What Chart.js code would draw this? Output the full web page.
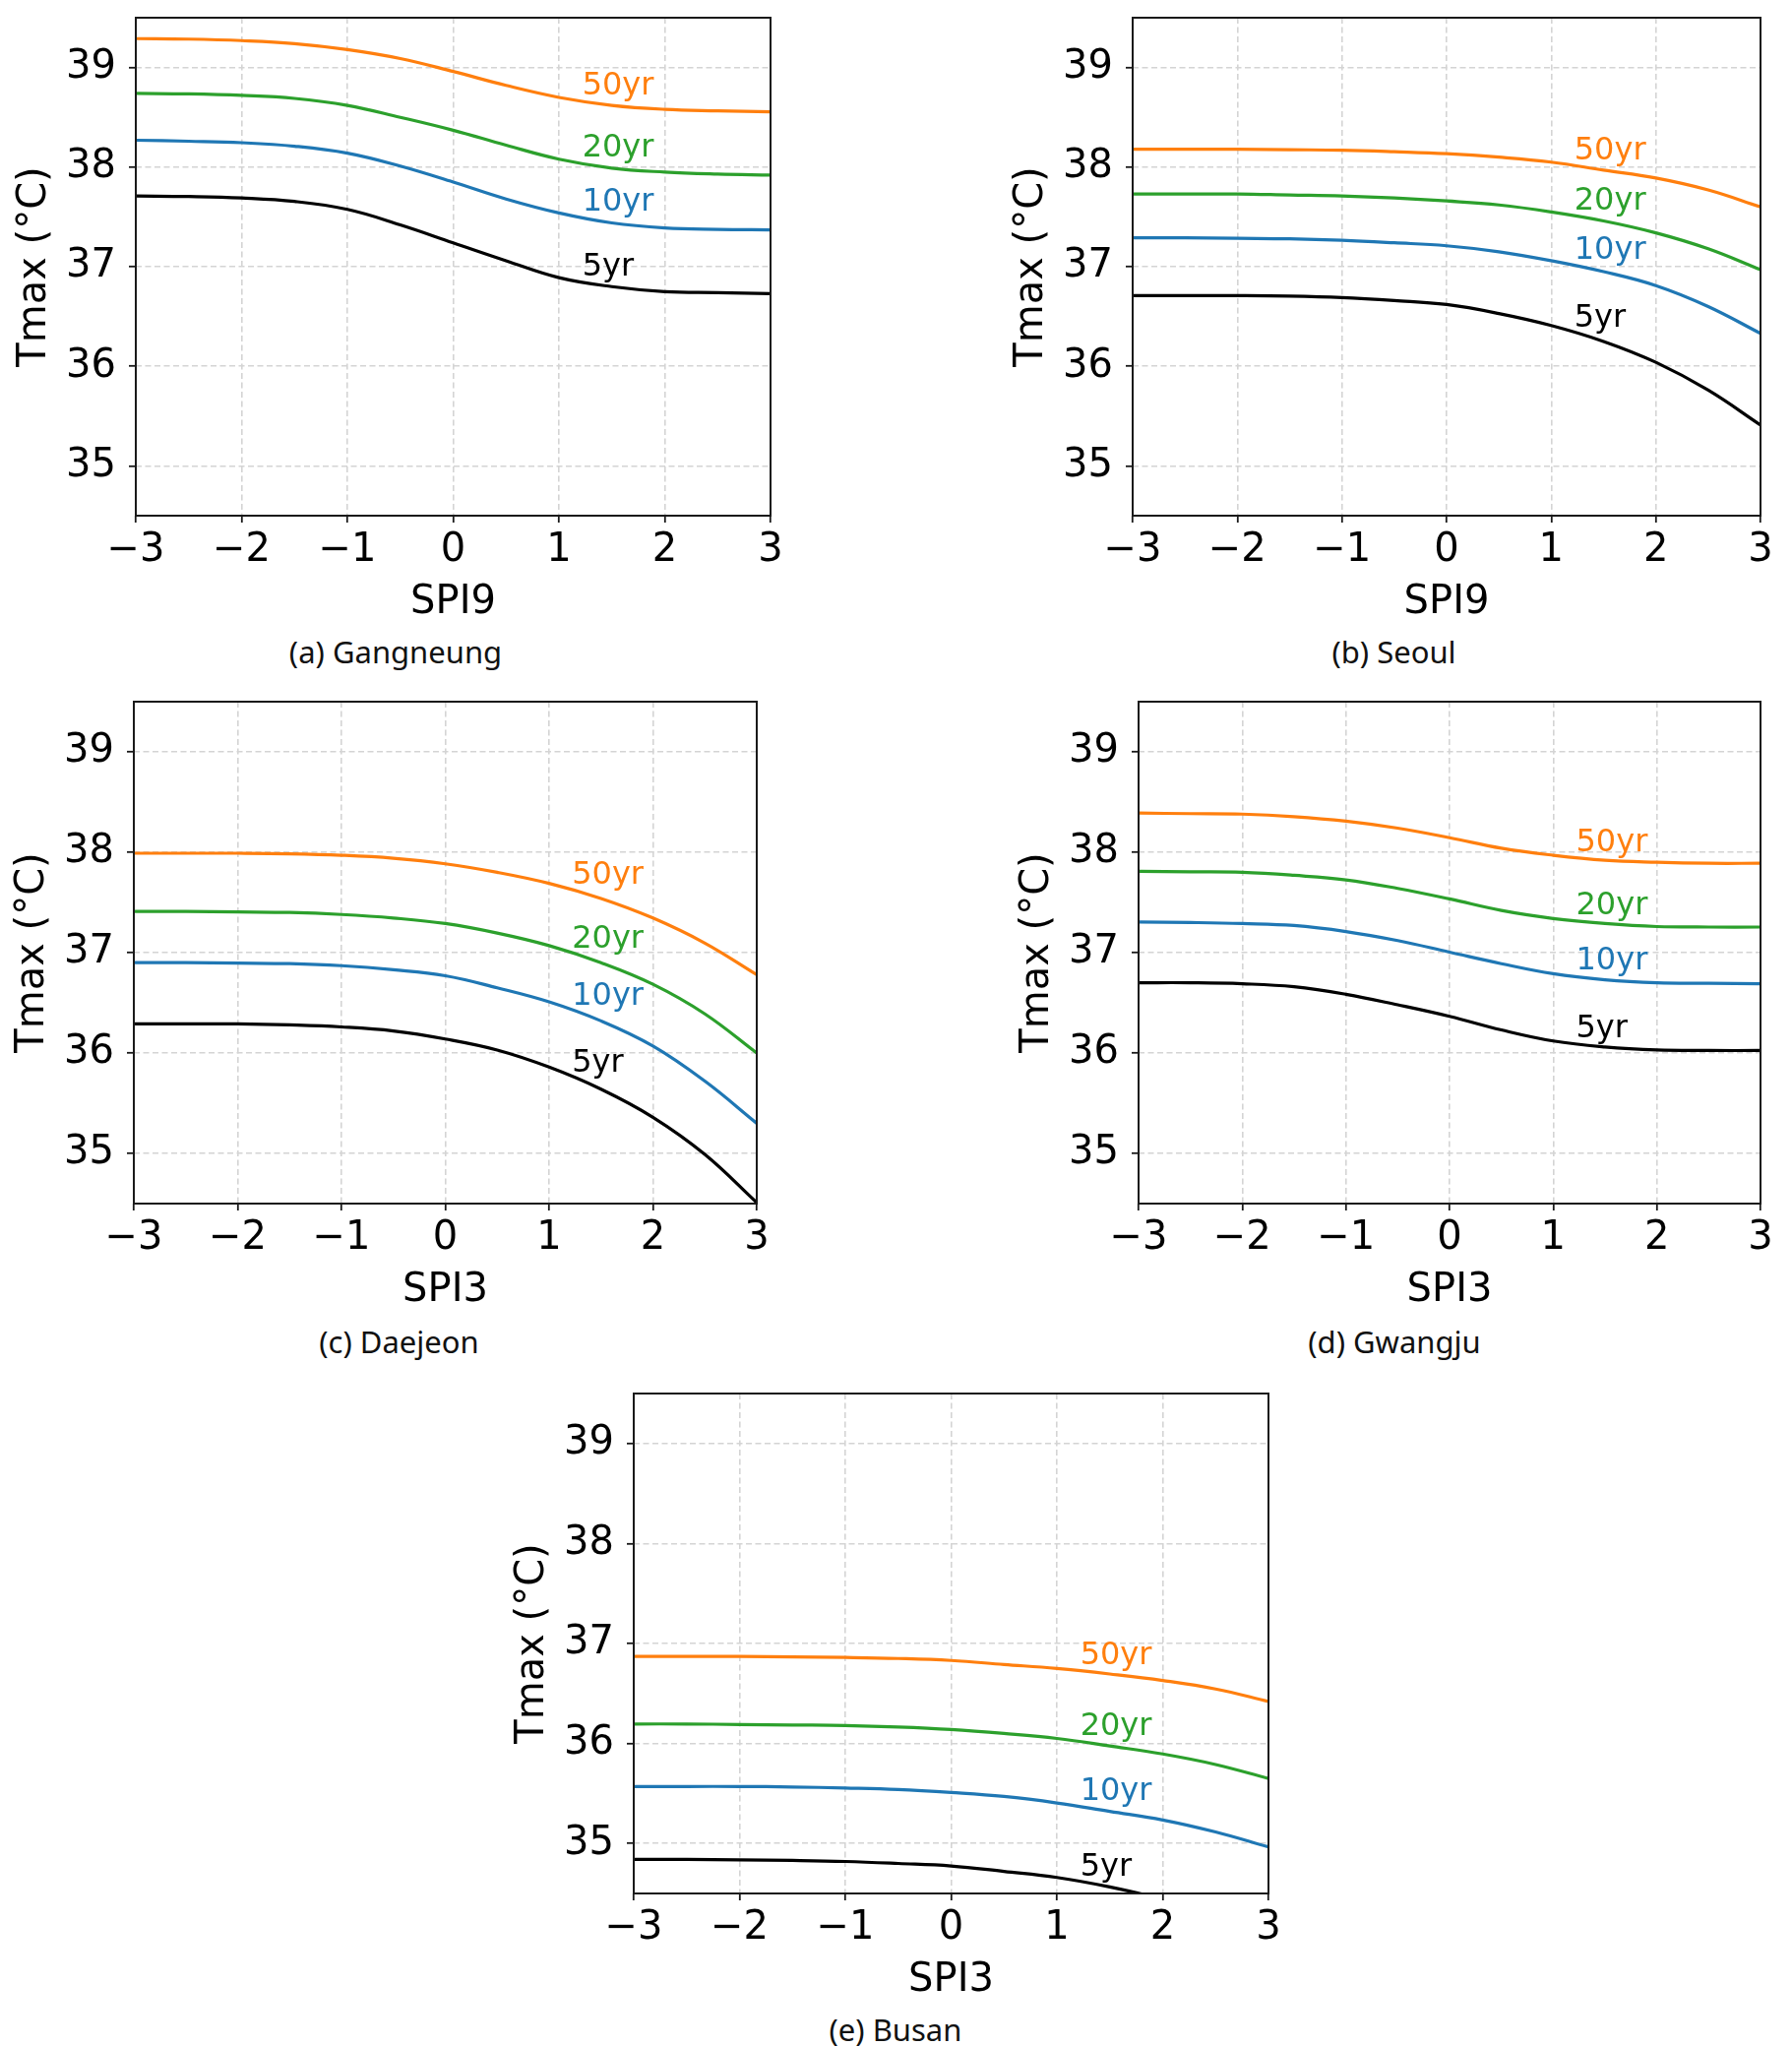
<!DOCTYPE html>
<html>
<head>
<meta charset="utf-8">
<script src="https://cdn.jsdelivr.net/npm/chart.js@4.4.0/dist/chart.umd.min.js"></script>
<style>
  html, body { margin: 0; padding: 0; background: #fff; }
  #fig { position: relative; width: 1821px; height: 2079px; overflow: hidden; background: #fff; }
  #fig canvas { position: absolute; }
  .caption {
    position: absolute;
    font-family: 'Noto Sans', sans-serif;
    font-size: 31px;
    line-height: 31px;
    color: #111;
    white-space: nowrap;
    transform: translateX(-50%);
  }
</style>
</head>
<body>
<div id="fig"></div>
<script>
// ===== 数据 =====
const spi = [-3, -2.5, -2, -1.5, -1, -0.5, 0, 0.5, 1, 1.5, 2, 2.5, 3];
const periods = ['50yr', '20yr', '10yr', '5yr'];
const periodColors = ['#ff7f0e', '#2ca02c', '#1f77b4', '#000000'];
const xTicks = [-3, -2, -1, 0, 1, 2, 3];
const yTicks = [35, 36, 37, 38, 39];

// (a) Gangneung - SPI9
const gangneung50 = [39.29, 39.285, 39.27, 39.24, 39.18, 39.09, 38.96, 38.82, 38.70, 38.62, 38.58, 38.565, 38.555];
const gangneung20 = [38.74, 38.735, 38.72, 38.69, 38.62, 38.50, 38.37, 38.22, 38.08, 37.99, 37.95, 37.93, 37.92];
const gangneung10 = [38.27, 38.26, 38.245, 38.21, 38.14, 38.01, 37.85, 37.68, 37.54, 37.44, 37.39, 37.375, 37.37];
const gangneung5  = [37.71, 37.705, 37.69, 37.655, 37.575, 37.42, 37.24, 37.06, 36.89, 36.80, 36.75, 36.74, 36.73];

// (b) Seoul - SPI9
const seoul50 = [38.18, 38.18, 38.18, 38.175, 38.17, 38.155, 38.135, 38.10, 38.05, 37.97, 37.89, 37.77, 37.60];
const seoul20 = [37.73, 37.73, 37.73, 37.72, 37.71, 37.69, 37.66, 37.62, 37.55, 37.46, 37.34, 37.18, 36.97];
const seoul10 = [37.29, 37.29, 37.285, 37.28, 37.265, 37.24, 37.21, 37.15, 37.06, 36.95, 36.81, 36.60, 36.33];
const seoul5  = [36.71, 36.71, 36.71, 36.705, 36.69, 36.66, 36.62, 36.53, 36.41, 36.25, 36.04, 35.76, 35.41];

// (c) Daejeon - SPI3
const daejeon50 = [37.99, 37.99, 37.99, 37.985, 37.97, 37.94, 37.885, 37.80, 37.69, 37.54, 37.345, 37.095, 36.78];
const daejeon20 = [37.41, 37.41, 37.405, 37.40, 37.38, 37.345, 37.29, 37.195, 37.07, 36.90, 36.685, 36.39, 36.00];
const daejeon10 = [36.90, 36.90, 36.895, 36.89, 36.87, 36.83, 36.77, 36.65, 36.51, 36.32, 36.07, 35.72, 35.30];
const daejeon5  = [36.29, 36.29, 36.29, 36.28, 36.26, 36.22, 36.14, 36.03, 35.86, 35.64, 35.36, 34.99, 34.51];

// (d) Gwangju - SPI3
const gwangju50 = [38.39, 38.385, 38.38, 38.355, 38.31, 38.24, 38.145, 38.04, 37.97, 37.92, 37.90, 37.89, 37.89];
const gwangju20 = [37.81, 37.805, 37.80, 37.77, 37.725, 37.64, 37.535, 37.42, 37.34, 37.29, 37.26, 37.255, 37.255];
const gwangju10 = [37.305, 37.30, 37.29, 37.27, 37.21, 37.12, 37.005, 36.89, 36.79, 36.73, 36.70, 36.695, 36.69];
const gwangju5  = [36.70, 36.70, 36.69, 36.66, 36.585, 36.48, 36.365, 36.23, 36.12, 36.06, 36.03, 36.025, 36.025];

// (e) Busan - SPI3
const busan50 = [36.87, 36.87, 36.87, 36.865, 36.86, 36.85, 36.83, 36.79, 36.75, 36.695, 36.63, 36.545, 36.42];
const busan20 = [36.195, 36.195, 36.19, 36.185, 36.18, 36.165, 36.14, 36.10, 36.05, 35.975, 35.895, 35.79, 35.65];
const busan10 = [35.57, 35.57, 35.57, 35.565, 35.555, 35.54, 35.51, 35.47, 35.405, 35.32, 35.235, 35.115, 34.965];
const busan5  = [34.84, 34.84, 34.835, 34.83, 34.82, 34.80, 34.775, 34.72, 34.66, 34.565, 34.44, 34.27, 34.06];

// ===== 版面（绘图区位置 / 图注位置） =====
const panels = [
    { caption: '(a) Gangneung', xTitle: 'SPI9', series: [gangneung50, gangneung20, gangneung10, gangneung5],
      area: { left: 138, top: 18, right: 783, bottom: 523.5 }, cap: { x: 402, base: 675 } },
    { caption: '(b) Seoul', xTitle: 'SPI9', series: [seoul50, seoul20, seoul10, seoul5],
      area: { left: 1151, top: 18, right: 1789, bottom: 523.5 }, cap: { x: 1416.5, base: 675 } },
    { caption: '(c) Daejeon', xTitle: 'SPI3', series: [daejeon50, daejeon20, daejeon10, daejeon5],
      area: { left: 136, top: 712.5, right: 769, bottom: 1222 }, cap: { x: 405.5, base: 1376 } },
    { caption: '(d) Gwangju', xTitle: 'SPI3', series: [gwangju50, gwangju20, gwangju10, gwangju5],
      area: { left: 1157, top: 712.5, right: 1789, bottom: 1222 }, cap: { x: 1417, base: 1376 } },
    { caption: '(e) Busan', xTitle: 'SPI3', series: [busan50, busan20, busan10, busan5],
      area: { left: 644, top: 1415.5, right: 1289, bottom: 1923 }, cap: { x: 910, base: 2075 } }
];

const PAD_L = 130, PAD_T = 50, PAD_R = 30, PAD_B = 116;
const AXIS_FONT = { family: 'DejaVu Sans', size: 40 };

function valueAt(points, xv) {
    for (let i = 0; i < points.length - 1; i++) {
        const a = points[i], b = points[i + 1];
        if (xv >= a.x && xv <= b.x) {
            return a.y + (b.y - a.y) * (xv - a.x) / (b.x - a.x);
        }
    }
    return points[points.length - 1].y;
}

// 绘图区外框（matplotlib 四边 spines）
const framePlugin = {
    id: 'frame',
    afterDatasetsDraw(chart) {
        const { ctx, chartArea: a } = chart;
        ctx.save();
        ctx.strokeStyle = '#1a1a1a';
        ctx.lineWidth = 2;
        ctx.strokeRect(a.left, a.top, a.right - a.left, a.bottom - a.top);
        ctx.restore();
    }
};

// 曲线旁的重现期标注
const curveLabelPlugin = {
    id: 'curveLabels',
    afterDatasetsDraw(chart) {
        const { ctx, scales: { x, y } } = chart;
        ctx.save();
        ctx.font = '32px "DejaVu Sans"';
        ctx.textAlign = 'left';
        ctx.textBaseline = 'alphabetic';
        chart.data.datasets.forEach(ds => {
            const v = valueAt(ds.data, 1.25);
            ctx.fillStyle = ds.borderColor;
            ctx.fillText(ds.label, x.getPixelForValue(1.22), y.getPixelForValue(v) - 7);
        });
        ctx.restore();
    }
};

function fmtTick(v) {
    return v < 0 ? '\u2212' + Math.abs(v) : String(v);
}

function createPanel(p) {
    const fig = document.getElementById('fig');
    const canvas = document.createElement('canvas');
    const w = Math.round(p.area.right - p.area.left) + PAD_L + PAD_R;
    const h = Math.round(p.area.bottom - p.area.top) + PAD_T + PAD_B;
    canvas.width = w;
    canvas.height = h;
    canvas.style.width = w + 'px';
    canvas.style.height = h + 'px';
    fig.appendChild(canvas);

    const datasets = p.series.map((vals, i) => ({
        label: periods[i],
        data: spi.map((s, j) => ({ x: s, y: vals[j] })),
        borderColor: periodColors[i],
        backgroundColor: periodColors[i],
        borderWidth: 3.2,
        pointRadius: 0,
        tension: 0.4,
        fill: false
    }));

    const chart = new Chart(canvas.getContext('2d'), {
        type: 'line',
        data: { datasets: datasets },
        options: {
            responsive: false,
            animation: false,
            devicePixelRatio: 1,
            layout: { padding: { left: 0, top: PAD_T, right: PAD_R, bottom: 0 } },
            plugins: { legend: { display: false }, tooltip: { enabled: false } },
            scales: {
                x: {
                    type: 'linear',
                    min: -3,
                    max: 3,
                    afterBuildTicks: scale => { scale.ticks = xTicks.map(v => ({ value: v })); },
                    afterFit: scale => { scale.height = PAD_B; },
                    grid: {
                        color: '#d4d4d4',
                        lineWidth: 1.6,
                        tickColor: '#1a1a1a',
                        tickLength: 7,
                        tickWidth: 1.8
                    },
                    border: { display: false, dash: [6, 3.5] },
                    ticks: {
                        color: '#000',
                        font: AXIS_FONT,
                        padding: 5,
                        maxRotation: 0,
                        callback: v => fmtTick(v)
                    },
                    title: {
                        display: true,
                        text: p.xTitle,
                        color: '#000',
                        font: AXIS_FONT,
                        padding: { top: 0, bottom: 3.5 }
                    }
                },
                y: {
                    type: 'linear',
                    min: 34.5,
                    max: 39.5,
                    afterBuildTicks: scale => { scale.ticks = yTicks.map(v => ({ value: v })); },
                    afterFit: scale => { scale.width = PAD_L; },
                    grid: {
                        color: '#d4d4d4',
                        lineWidth: 1.6,
                        tickColor: '#1a1a1a',
                        tickLength: 7,
                        tickWidth: 1.8
                    },
                    border: { display: false, dash: [6, 3.5] },
                    ticks: {
                        color: '#000',
                        font: AXIS_FONT,
                        padding: 13,
                        callback: v => fmtTick(v)
                    },
                    title: {
                        display: true,
                        text: 'Tmax (\u00B0C)',
                        color: '#000',
                        font: AXIS_FONT,
                        padding: { top: 4, bottom: 0 }
                    }
                }
            }
        },
        plugins: [framePlugin, curveLabelPlugin]
    });

    // 把绘图区对齐到目标位置
    const ca = chart.chartArea;
    canvas.style.left = (p.area.left - ca.left) + 'px';
    canvas.style.top = (p.area.top - ca.top) + 'px';

    const cap = document.createElement('div');
    cap.className = 'caption';
    cap.textContent = p.caption;
    cap.style.left = p.cap.x + 'px';
    cap.style.top = (p.cap.base - 28) + 'px';
    fig.appendChild(cap);

    return chart;
}

panels.forEach(p => createPanel(p));
</script>
</body>
</html>
